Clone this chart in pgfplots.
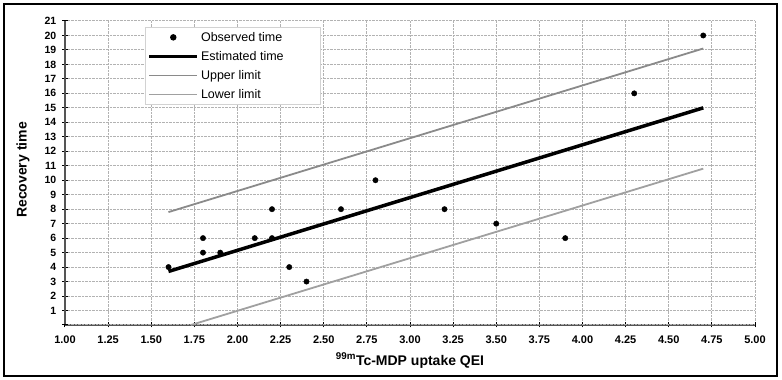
\documentclass[border=0pt]{standalone}
\usepackage{pgfplots}
\pgfplotsset{compat=1.18}
\usepackage{fontspec}
\setmainfont{Liberation Sans}
\definecolor{upcol}{HTML}{8A8A8A}
\definecolor{locol}{HTML}{A0A0A0}
\definecolor{axcol}{HTML}{555555}
\pgfplotsset{longline legend/.style={legend image code/.code={\draw[##1] (0pt,0pt) -- (48pt,0pt);}},
  dot legend/.style={legend image code/.code={\fill[black] (24pt,0pt) circle (2.7pt);}}}
\begin{document}
\begin{tikzpicture}[x=1pt,y=1pt]
\useasboundingbox (0,0) rectangle (782,380);
\draw[line width=2pt] (4,4) rectangle (777,376);
\begin{axis}[
  at={(65pt,55pt)}, anchor=south west,
  scale only axis, width=690pt, height=304pt,
  xmin=1, xmax=5, ymin=0, ymax=21,
  xtick={1,1.25,1.5,1.75,2,2.25,2.5,2.75,3,3.25,3.5,3.75,4,4.25,4.5,4.75,5},
  ytick={1,2,3,4,5,6,7,8,9,10,11,12,13,14,15,16,17,18,19,20,21},
  extra y ticks={0}, extra y tick labels={},
  axis lines*=left,
  axis line style={line width=2pt, axcol},
  tick style={black, line width=1pt},
  major tick length=5pt, tick align=center,
  grid=major,
  major grid style={gray!60, densely dotted, line width=1pt},
  /pgf/number format/assume math mode=true,
  xticklabel style={/pgf/number format/.cd, fixed, fixed zerofill, precision=2, /tikz/.cd, font=\fontsize{11}{13}\selectfont\bfseries, inner sep=0pt, anchor=north, yshift=-8pt},
  yticklabel style={font=\fontsize{10.5}{12}\selectfont\bfseries, inner sep=0pt, anchor=east, xshift=-6pt},
  xlabel={\textsuperscript{99m}Tc-MDP uptake QEI},
  ylabel={Recovery time},
  xlabel style={font=\fontsize{14}{16}\selectfont\bfseries, at={(axis description cs:0.5,-0.1316)}, anchor=base},
  ylabel style={font=\fontsize{14}{16}\selectfont\bfseries, at={(axis description cs:-0.0609,0.51)}, anchor=center},
  legend style={at={(0.116,0.98)}, anchor=north west, draw=gray!35, line width=1pt,
    font=\fontsize{12.5}{14}\selectfont, row sep=4.5pt, inner xsep=2pt, inner ysep=2.5pt},
  legend cell align=left,
  clip=false,
]
\addplot[only marks, mark=*, mark size=2.7pt, black, dot legend]
  coordinates {(1.6,4) (1.8,6) (1.8,5) (1.9,5) (2.1,6) (2.2,6) (2.2,8) (2.3,4) (2.4,3)
   (2.6,8) (2.8,10) (3.2,8) (3.5,7) (3.9,6) (4.3,16) (4.7,20)};
\addlegendentry{\makebox[115pt][l]{Observed time}}
\addplot[black, line width=3.5pt, longline legend]
  coordinates {(1.6,3.7) (4.7,15.0)};
\addlegendentry{Estimated time}
\addplot[upcol, line width=1.8pt, longline legend]
  coordinates {(1.6,7.8) (4.7,19.1)};
\addlegendentry{Upper limit}
\addplot[locol, line width=1.8pt, longline legend]
  coordinates {(1.73,0) (4.7,10.8)};
\addlegendentry{Lower limit}
\end{axis}
\end{tikzpicture}
\end{document}
